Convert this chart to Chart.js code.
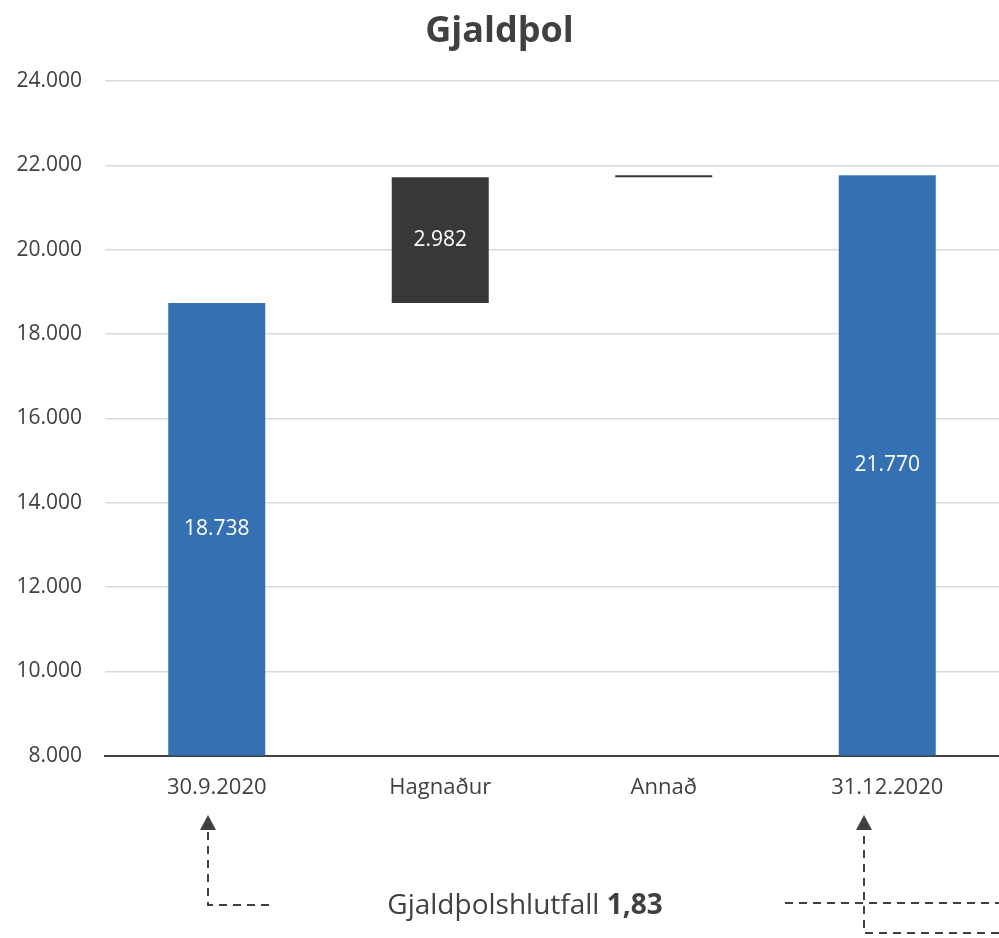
<!DOCTYPE html>
<html>
<head>
<meta charset="utf-8">
<script src="https://cdn.jsdelivr.net/npm/chart.js@4.4.1/dist/chart.umd.min.js"></script>
<style>
  html, body { margin: 0; padding: 0; background: #fff; }
  #wrap { width: 999px; height: 938px; }
</style>
</head>
<body>
<div id="wrap"><canvas id="chart" width="999" height="938"></canvas></div>
<script>
// gögn
const categories = ['30.9.2020', 'Hagnaður', 'Annað', '31.12.2020'];
const amounts = [18738, 2982, 50, 21770];
const isTotal = [true, false, false, true];
const showLabel = [true, true, false, true];
const yTicks = [8000, 10000, 12000, 14000, 16000, 18000, 20000, 22000, 24000];
const ratioText = 'Gjaldþolshlutfall ';
const ratioValue = '1,83';

const FONT = "'Open Sans', sans-serif";
const TEXT = '#404040';

function fmt(n) {
    return String(Math.round(n)).replace(/\B(?=(\d{3})+(?!\d))/g, '.');
}

// floating bars for the waterfall
let running = 0;
const ranges = amounts.map(function(v, i) {
    if (isTotal[i]) { running = v; return [0, v]; }
    const r = [running, running + v];
    running += v;
    return r;
});
const colors = isTotal.map(t => t ? '#3570B3' : '#38383A');

const barLabels = {
    id: 'barLabels',
    afterDatasetsDraw(chart) {
        const ctx = chart.ctx;
        const meta = chart.getDatasetMeta(0);
        const yScale = chart.scales.y;
        ctx.save();
        ctx.fillStyle = '#ffffff';
        ctx.font = '21px ' + FONT;
        ctx.textAlign = 'center';
        ctx.textBaseline = 'middle';
        meta.data.forEach(function(bar, i) {
            if (!showLabel[i]) return;
            const top = yScale.getPixelForValue(ranges[i][1]);
            const bot = Math.min(yScale.getPixelForValue(ranges[i][0]), chart.chartArea.bottom);
            ctx.fillText(fmt(amounts[i]), bar.x, (top + bot) / 2);
        });
        ctx.restore();
    }
};

const ratioNote = {
    id: 'ratioNote',
    afterDraw(chart) {
        const ctx = chart.ctx;
        ctx.save();
        ctx.strokeStyle = '#404040';
        ctx.fillStyle = '#404040';
        ctx.lineWidth = 2;
        ctx.setLineDash([8, 6]);

        // left arrow
        ctx.beginPath();
        ctx.moveTo(269, 905);
        ctx.lineTo(208, 905);
        ctx.lineTo(208, 829);
        ctx.stroke();
        // right arrow
        ctx.beginPath();
        ctx.moveTo(785, 903);
        ctx.lineTo(999, 903);
        ctx.stroke();
        ctx.beginPath();
        ctx.moveTo(999, 933);
        ctx.lineTo(864, 933);
        ctx.lineTo(864, 829);
        ctx.stroke();

        ctx.setLineDash([]);
        [208, 864].forEach(function(x) {
            ctx.beginPath();
            ctx.moveTo(x, 815);
            ctx.lineTo(x - 8, 830);
            ctx.lineTo(x + 8, 830);
            ctx.closePath();
            ctx.fill();
        });

        ctx.textBaseline = 'middle';
        ctx.textAlign = 'left';
        ctx.font = '28px ' + FONT;
        const w1 = ctx.measureText(ratioText).width;
        ctx.font = 'bold 28px ' + FONT;
        const w2 = ctx.measureText(ratioValue).width;
        const x0 = 525 - (w1 + w2) / 2;
        ctx.font = '28px ' + FONT;
        ctx.fillText(ratioText, x0, 906);
        ctx.font = 'bold 28px ' + FONT;
        ctx.fillText(ratioValue, x0 + w1, 906);
        ctx.restore();
    }
};

new Chart(document.getElementById('chart').getContext('2d'), {
    type: 'bar',
    data: {
        labels: categories,
        datasets: [{
            data: ranges,
            backgroundColor: colors,
            borderWidth: 0,
            categoryPercentage: 1,
            barPercentage: 0.434
        }]
    },
    options: {
        responsive: false,
        animation: false,
        layout: { padding: { left: 0, right: 0, top: 6, bottom: 126 } },
        plugins: {
            legend: { display: false },
            tooltip: { enabled: false },
            title: {
                display: true,
                text: 'Gjaldþol',
                color: TEXT,
                font: { family: FONT, size: 36, weight: 'bold' },
                padding: { top: 4, bottom: 28 }
            }
        },
        scales: {
            x: {
                grid: { display: false },
                border: { display: true, color: '#404040', width: 2 },
                ticks: { color: TEXT, font: { family: FONT, size: 22 }, padding: 11 }
            },
            y: {
                min: 8000,
                max: 24000,
                afterBuildTicks(axis) { axis.ticks = yTicks.map(v => ({ value: v })); },
                afterFit(axis) { axis.width = 105; },
                grid: { color: '#d9d9d9', lineWidth: 1.5, drawTicks: false },
                border: { display: false },
                ticks: {
                    color: TEXT,
                    font: { family: FONT, size: 21 },
                    padding: 23,
                    callback: v => fmt(v)
                }
            }
        }
    },
    plugins: [barLabels, ratioNote]
});
</script>
</body>
</html>
